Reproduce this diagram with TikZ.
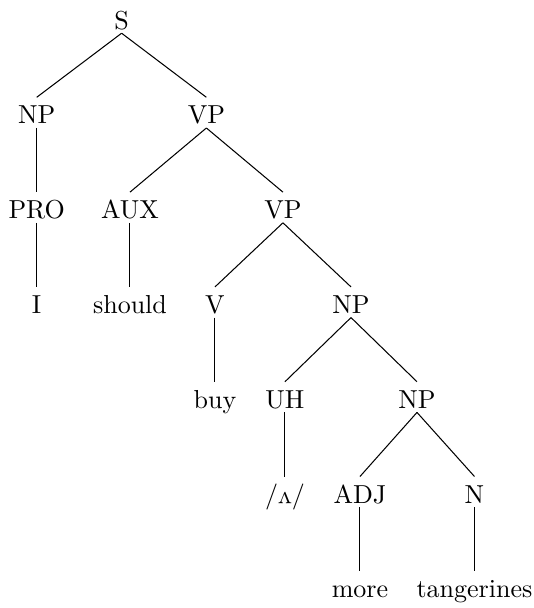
\documentclass[tikz,border=0pt]{standalone}
\usepackage{amsmath}
\usepackage{tikz}

\begin{document}
\begin{tikzpicture}[lbl/.style={anchor=base, inner sep=1.4pt, text height=8.6pt, text depth=0pt}]
\useasboundingbox (0,0) rectangle (7.218,8.219);
% root and first level
\node[lbl] (s)    at (1.644,7.826) {S};
\node[lbl] (np)   at (0.496,6.545) {NP};
\node[lbl] (vp)   at (2.790,6.545) {VP};
% second level
\node[lbl] (pro)  at (0.496,5.263) {PRO};
\node[lbl] (aux)  at (1.757,5.263) {AUX};
\node[lbl] (vpb)  at (3.825,5.263) {VP};
% third level
\node[lbl] (i)    at (0.496,3.982) {I};
\node[lbl] (shd)  at (1.757,3.982) {should};
\node[lbl] (v)    at (2.906,3.982) {V};
\node[lbl] (npb)  at (4.745,3.982) {NP};
% fourth level
\node[lbl] (buy)  at (2.906,2.700) {buy};
\node[lbl] (uh)   at (3.852,2.700) {UH};
\node[lbl] (npc)  at (5.637,2.700) {NP};
% fifth level
\node[lbl] (wedge) at (3.852,1.419) {/\rotatebox[origin=c]{180}{v}/};
\node[lbl] (adj)  at (4.866,1.419) {ADJ};
\node[lbl] (n)    at (6.414,1.419) {N};
% leaves
\node[lbl] (more) at (4.866,0.138) {more};
\node[lbl] (tang) at (6.414,0.138) {tangerines};

% branches
\foreach \a/\b in {s/np, s/vp, np/pro, vp/aux, vp/vpb, pro/i, aux/shd, vpb/v, vpb/npb,
    v/buy, npb/uh, npb/npc, uh/wedge, npc/adj, npc/n, adj/more, n/tang} {
    \draw (\a.south) -- (\b.north);
}
\end{tikzpicture}
\end{document}
